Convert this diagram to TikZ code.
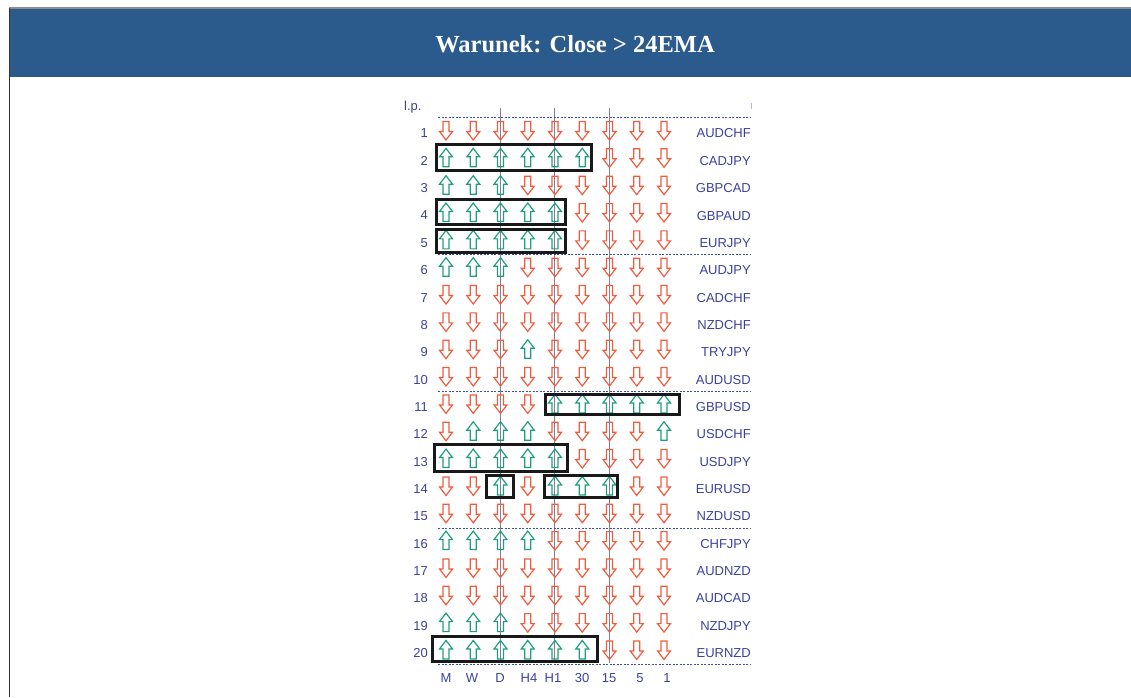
\documentclass[tikz,border=0pt]{standalone}
\usepackage{fontspec}
\setmainfont{Liberation Sans}
\newfontfamily\titlefont{Liberation Serif}
\definecolor{hdr}{RGB}{43,90,140}
\definecolor{dnc}{RGB}{240,92,62}
\definecolor{upc}{RGB}{30,158,124}
\definecolor{lbl}{RGB}{58,66,156}
\definecolor{dsh}{RGB}{60,80,170}
\definecolor{vln}{RGB}{130,125,150}
\tikzset{
  pics/dnarr/.style={code={\draw[dnc,line width=1.2pt,line join=miter]
     (-3,-9) -- (3,-9) -- (3,1) -- (6.5,1) -- (0,9.5) -- (-6.5,1) -- (-3,1) -- cycle;}},
  pics/uparr/.style={code={\draw[upc,line width=1.2pt,line join=miter]
     (-3,9) -- (3,9) -- (3,-1) -- (6.5,-1) -- (0,-9.5) -- (-6.5,-1) -- (-3,-1) -- cycle;}},
  lbltext/.style={text=lbl,font=\fontsize{13}{15}\selectfont,inner sep=0pt},
  selbox/.style={draw=black!90,line width=3pt},
  sepline/.style={dsh,line width=1pt,dash pattern=on 2pt off 1.5pt},
  gridline/.style={vln,line width=1pt}
}
\begin{document}
\begin{tikzpicture}[x=1pt,y=-1pt]
\useasboundingbox (0,0) rectangle (1131,697);
% frame and header
\fill[hdr] (10,9) rectangle (1131,77);
\draw[black!45,line width=1.5pt] (9,7.8) -- (1131,7.8);
\draw[black!80,line width=1.5pt] (9.5,7.8) -- (9.5,697);
\node[text=white,font=\titlefont\bfseries\fontsize{24.5}{28}\selectfont,inner sep=0pt] (title) at (575,44) {Warunek: Close > 24EMA};
% vertical grid lines
\foreach \gx in {500,554.5,609} \draw[gridline] (\gx,108) -- (\gx,663);
% separators
\foreach \sy in {117.7,254.5,391,528,664.5} \draw[sepline] (438,\sy) -- (751,\sy);
\draw[blue!30,line width=1pt] (751,103) -- (751,109);
\node[lbltext,anchor=west] (lp) at (404,107) {l.p.};
% arrows
\foreach \r [count=\i] in {
 {D,D,D,D,D,D,D,D,D},
 {U,U,U,U,U,U,D,D,D},
 {U,U,U,D,D,D,D,D,D},
 {U,U,U,U,U,D,D,D,D},
 {U,U,U,U,U,D,D,D,D},
 {U,U,U,D,D,D,D,D,D},
 {D,D,D,D,D,D,D,D,D},
 {D,D,D,D,D,D,D,D,D},
 {D,D,D,U,D,D,D,D,D},
 {D,D,D,D,D,D,D,D,D},
 {D,D,D,D,U,U,U,U,U},
 {D,U,U,U,D,D,D,D,U},
 {U,U,U,U,U,D,D,D,D},
 {D,D,U,D,U,U,U,D,D},
 {D,D,D,D,D,D,D,D,D},
 {U,U,U,U,D,D,D,D,D},
 {D,D,D,D,D,D,D,D,D},
 {D,D,D,D,D,D,D,D,D},
 {U,U,U,D,D,D,D,D,D},
 {U,U,U,U,U,U,D,D,D}} {
  \pgfmathsetmacro{\ry}{130.5+27.34*(\i-1)}
  \foreach \c [count=\j] in \r {
    \pgfmathsetmacro{\cx}{446+27.25*(\j-1)}
    \if\c U \pic at (\cx,\ry) {uparr};\else \pic at (\cx,\ry) {dnarr};\fi
  }
  \node[lbltext,anchor=east] (n\i) at (428,\ry+3) {\i};
}
% pair names
\foreach \p [count=\i] in {AUDCHF,CADJPY,GBPCAD,GBPAUD,EURJPY,AUDJPY,CADCHF,NZDCHF,TRYJPY,AUDUSD,GBPUSD,USDCHF,USDJPY,EURUSD,NZDUSD,CHFJPY,AUDNZD,AUDCAD,NZDJPY,EURNZD} {
  \pgfmathsetmacro{\ry}{130.5+27.34*(\i-1)}
  \node[lbltext,anchor=east] (p\i) at (751,\ry+3) {\p};
}
% column labels
\foreach \t/\lx [count=\j] in {M/446,W/472,D/500,H4/529,H1/553,30/582,15/609,5/640,1/667}
  \node[lbltext] (c\j) at (\lx,678) {\t};
% selection boxes
\draw[selbox] (436.5,144.2) rectangle (591.5,170.8);
\draw[selbox] (436.5,199.8) rectangle (565.8,224.2);
\draw[selbox] (436.5,229.8) rectangle (565.8,252.8);
\draw[selbox] (545.5,394.2) rectangle (679.2,414.2);
\draw[selbox] (434.2,444.8) rectangle (567.8,471.8);
\draw[selbox] (486.2,475.8) rectangle (513.5,497.5);
\draw[selbox] (544.2,475.8) rectangle (617.2,497.5);
\draw[selbox] (432.5,636.5) rectangle (597.8,661.2);
\end{tikzpicture}
\end{document}
